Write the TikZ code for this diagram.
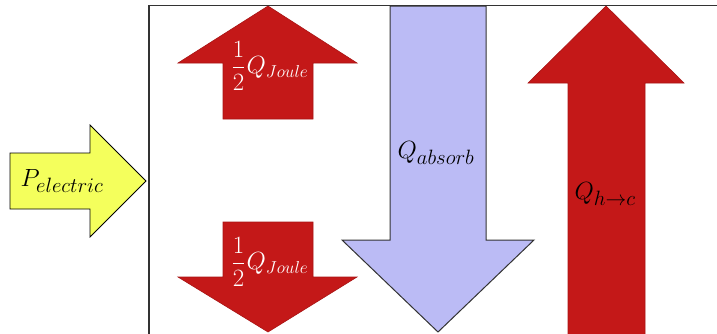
\documentclass[tikz,border=0pt]{standalone}
\usepackage{amsmath}
\definecolor{heatred}{HTML}{C41818}
\definecolor{heatedge}{HTML}{A81414}
\definecolor{absorbblue}{HTML}{BBBBF5}
\definecolor{powyellow}{HTML}{F4FF5C}
\tikzset{
  redarrow/.style={fill=heatred, draw=heatedge, line width=0.6pt, line join=miter},
  bluearrow/.style={fill=absorbblue, draw=black!80, line width=1pt, line join=miter},
  yelarrow/.style={fill=powyellow, draw=black, line width=0.8pt, line join=miter},
  lbl/.style={inner sep=0pt, font=\fontsize{28}{32}\selectfont},
}
% one half times the Joule heat, with a smaller fraction
\newcommand{\halfjoule}{{\fontsize{23}{26}\selectfont$\dfrac{1}{2}$}\kern1pt{\fontsize{26}{30}\selectfont$Q_{Joule}$}}
\begin{document}
\begin{tikzpicture}[x=1pt, y=-1pt]
  \useasboundingbox (0,0) rectangle (717,333);
  % system boundary
  \draw[black!80, line width=1.4pt] (149,345) -- (149,5.5) -- (730,5.5);

  % electric power input
  \draw[yelarrow] (10,153) -- (90,153) -- (90,125) -- (146,181) -- (90,237) -- (90,209) -- (10,209) -- cycle;
  \node[lbl] (pel) at (62,181) {$P_{electric}$};

  % upper half of the Joule heat
  \draw[redarrow] (268,6) -- (357,63) -- (313,63) -- (313,119) -- (223,119) -- (223,63) -- (178,63) -- cycle;
  \node[lbl, text=white] (qju) at (270,66) {\halfjoule};

  % lower half of the Joule heat
  \draw[redarrow] (223,222) -- (313,222) -- (313,277) -- (357,277) -- (268,332) -- (178,277) -- (223,277) -- cycle;
  \node[lbl, text=white] (qjd) at (270,262) {\halfjoule};

  % absorbed heat
  \draw[bluearrow] (390,6) -- (486,6) -- (486,240) -- (534,240) -- (438,332) -- (342,240) -- (390,240) -- cycle;
  \node[lbl] (qab) at (436,153) {$Q_{absorb}$};

  % heat flow hot to cold
  \draw[redarrow] (606,6) -- (684,83) -- (645,83) -- (645,340) -- (568,340) -- (568,83) -- (528,83) -- cycle;
  \node[lbl] (qhc) at (605,194) {$Q_{h\to c}$};
\end{tikzpicture}
\end{document}
